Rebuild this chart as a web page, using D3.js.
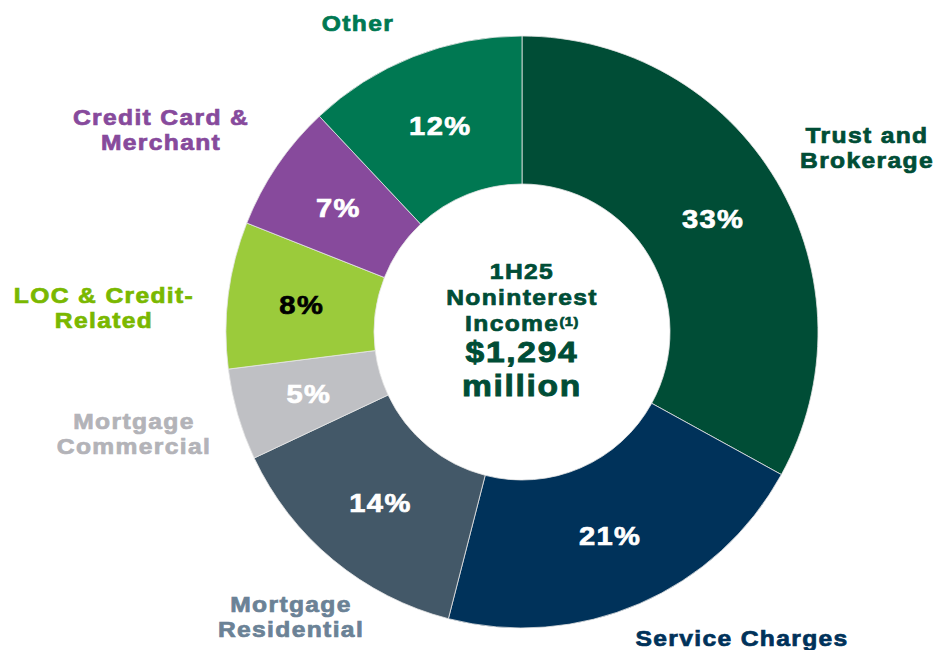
<!DOCTYPE html>
<html>
<head>
<meta charset="utf-8">
<script src="https://cdn.jsdelivr.net/npm/d3@7"></script>
<style>
  html, body { margin: 0; padding: 0; background: #fff; }
  svg text { font-family: "Liberation Sans", Arial, sans-serif; font-weight: bold; }
</style>
</head>
<body>
<div id="root"></div>
<script>
// data
const categories = ["Trust and Brokerage", "Service Charges", "Mortgage Residential",
  "Mortgage Commercial", "LOC & Credit-Related", "Credit Card & Merchant", "Other"];
const shares = [33, 21, 14, 5, 8, 7, 12];
const sliceColors = ["#004d36", "#00325a", "#435868", "#bfc0c4", "#9bcb3b", "#874a9c", "#007852"];
const labelColors = ["#004d36", "#00325a", "#6b8296", "#b3b3b8", "#7ab800", "#874a9c", "#007852"];
const pctColors = ["#fff", "#fff", "#fff", "#fff", "#000", "#fff", "#fff"];
const labelLines = [["Trust and", "Brokerage"], ["Service Charges"], ["Mortgage", "Residential"],
  ["Mortgage", "Commercial"], ["LOC & Credit-", "Related"], ["Credit Card &", "Merchant"], ["Other"]];
const totalText = "$1,294";

const width = 938, height = 650;
const cx = 522, cy = 332;
const outerR = 296, innerR = 148;
const stretch = 1.12; // the deck font is wider than Liberation bold

// where the category names sit (centre x, first baseline)
const labelPos = [[867, 143], [742, 646], [291, 612], [134, 429], [104, 303], [161, 125], [358, 31]];

const data = categories.map((c, i) => ({ name: c, value: shares[i], i: i }));

const svg = d3.select("#root").append("svg")
  .attr("width", width)
  .attr("height", height);

const g = svg.append("g")
  .attr("transform", "translate(" + cx + "," + cy + ")");

const pie = d3.pie().sort(null).value(d => d.value);
const arc = d3.arc().innerRadius(innerR).outerRadius(outerR);
const labelArc = d3.arc().innerRadius(222).outerRadius(222);

const arcs = pie(data);

g.selectAll("path.slice")
  .data(arcs)
  .enter()
  .append("path")
  .attr("class", "slice")
  .attr("d", arc)
  .attr("fill", d => sliceColors[d.data.i])
  .attr("stroke", "#e6e6e6")
  .attr("stroke-width", 0.8);

// percentages inside the ring
g.selectAll("text.pct")
  .data(arcs)
  .enter()
  .append("text")
  .attr("class", "pct")
  .attr("transform", d => "translate(" + labelArc.centroid(d) + ") scale(" + stretch + ",1)")
  .attr("text-anchor", "middle")
  .attr("dy", "0.36em")
  .attr("font-size", 26)
  .attr("letter-spacing", 1.2)
  .attr("fill", d => pctColors[d.data.i])
  .attr("stroke", d => pctColors[d.data.i])
  .attr("stroke-width", 0.7)
  .text(d => d.data.value + "%");

// category names around the ring
const names = svg.selectAll("text.name")
  .data(data)
  .enter()
  .append("text")
  .attr("class", "name")
  .attr("transform", d => "translate(" + labelPos[d.i] + ") scale(" + stretch + ",1)")
  .attr("text-anchor", "middle")
  .attr("font-size", 22)
  .attr("letter-spacing", 1.2)
  .attr("fill", d => labelColors[d.i])
  .attr("stroke", d => labelColors[d.i])
  .attr("stroke-width", 0.7);

names.each(function(d) {
  const t = d3.select(this);
  labelLines[d.i].forEach((line, k) => {
    t.append("tspan")
      .attr("x", 0)
      .attr("y", k * 25)
      .text(line);
  });
});

// centre title
const center = svg.append("g")
  .attr("fill", "#004d36")
  .attr("stroke", "#004d36")
  .attr("text-anchor", "middle");

const centerText = (y, size, sw) => center.append("text")
  .attr("transform", "translate(" + cx + "," + y + ") scale(" + stretch + ",1)")
  .attr("font-size", size)
  .attr("letter-spacing", size > 25 ? 1.5 : 1.2)
  .attr("stroke-width", sw);

centerText(279, 22, 0.7).text("1H25");
centerText(305, 22, 0.7).text("Noninterest");
const inc = centerText(331, 22, 0.7);
inc.append("tspan").text("Income");
inc.append("tspan").attr("font-size", 13).attr("dy", -5).attr("letter-spacing", 0.5).text("(1)");
centerText(362, 30, 0.9).text(totalText);
centerText(396, 30, 0.9).text("million");
</script>
</body>
</html>
